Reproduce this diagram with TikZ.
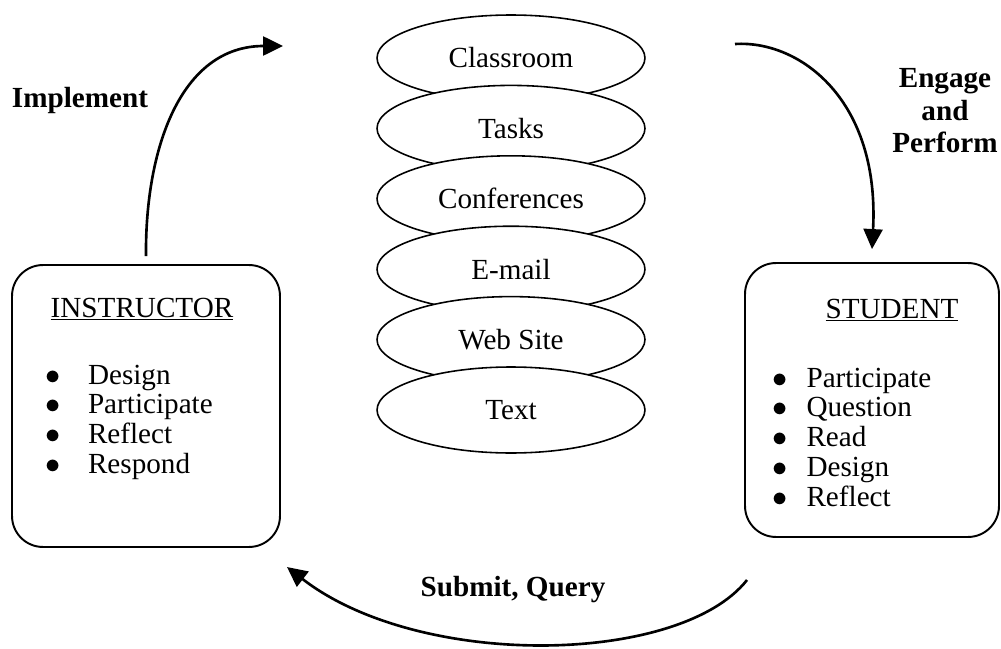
\documentclass[tikz,border=0pt]{standalone}
\usepackage{fontspec}
\setmainfont{Liberation Serif}
\usetikzlibrary{shapes.geometric,arrows.meta}

\begin{document}
\begin{tikzpicture}[x=0.02cm,y=-0.02cm,
		medium/.style={ellipse,draw,line width=0.9pt,fill=white,inner sep=0pt,minimum width=5.36cm,minimum height=1.72cm,font=\fontsize{16.6}{18}\selectfont},
		party/.style={draw,line width=1.1pt,rounded corners=0.62cm,inner sep=0pt},
		flow/.style={line width=1.5pt,-{Triangle[length=0.4cm,width=0.38cm]}},
		verb/.style={font=\fontsize{16.6}{18.5}\selectfont\bfseries,align=center},
		plain/.style={font=\fontsize{16.6}{17}\selectfont,inner sep=0pt}]
	\useasboundingbox (0,0) rectangle (1001,649);

	% the stack of media
	\foreach \lbl [count=\i] in {Classroom,Tasks,Conferences,E-mail,Web Site,Text}
		\node[medium] (m\i) at (511,{58+70.4*(\i-1)}) {\lbl};

	% the two parties
	\node[party,minimum width=5.36cm,minimum height=5.64cm] (instr) at (146,406) {};
	\node[plain,anchor=base] (instrhead) at (142,317) {\underline{INSTRUCTOR}};
	\node[plain,anchor=base west] (instrlist) at (45,384) {\begin{tabular}[t]{@{}l@{\hspace{0.55cm}}l@{}}
		$\bullet$ & Design\\
		$\bullet$ & Participate\\
		$\bullet$ & Reflect\\
		$\bullet$ & Respond
	\end{tabular}};

	\node[party,minimum width=5.08cm,minimum height=5.48cm] (stud) at (872,400) {};
	\node[plain,anchor=base] (studhead) at (892,318) {\underline{STUDENT}};
	\node[plain,anchor=base west] (studlist) at (772,387) {\begin{tabular}[t]{@{}l@{\hspace{0.38cm}}l@{}}
		$\bullet$ & Participate\\
		$\bullet$ & Question\\
		$\bullet$ & Read\\
		$\bullet$ & Design\\
		$\bullet$ & Reflect
	\end{tabular}};

	% the cycle
	\node[verb] (impl) at (80,100) {Implement};
	\node[verb] (engage) at (945,111) {Engage\\and\\Perform};
	\node[verb] (submit) at (513,590) {Submit, Query};

	\coordinate (implend) at (283,46);
	\coordinate (engstart) at (735,44);
	\coordinate (substart) at (747,580);
	\coordinate (subend) at (287,567);

	\draw[flow] ([yshift=0.16cm]instr.north) .. controls (145,150) and (180,46) .. (implend);
	\draw[flow] (engstart) .. controls (800,40) and (880,100) .. ([yshift=0.26cm]stud.north);
	\draw[flow] (substart) .. controls (680,665) and (420,670) .. (subend);
\end{tikzpicture}
\end{document}
